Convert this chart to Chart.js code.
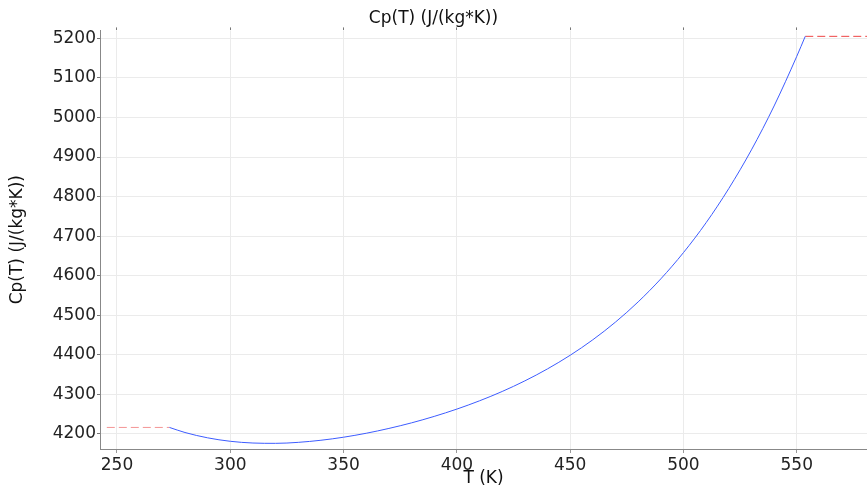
<!DOCTYPE html>
<html>
<head>
<meta charset="utf-8">
<script src="https://cdn.jsdelivr.net/npm/chart.js@4/dist/chart.umd.min.js"></script>
<style>
  html, body { margin: 0; padding: 0; background: #fff; }
  #wrap { width: 867px; height: 490px; }
</style>
</head>
<body>
<div id="wrap"><canvas id="cpChart" width="867" height="490"></canvas></div>
<script>
// temperature (K) and heat capacity (J/(kg*K))
const temps = [273.15, 280, 290, 300, 310, 320, 330, 340, 350, 360, 370, 380, 390, 400, 410,
  420, 430, 440, 450, 460, 470, 480, 490, 500, 510, 520, 530, 540, 550, 553.75];
const cpValues = [4216.5, 4203.7, 4190.2, 4181.5, 4177.1, 4176.3, 4178.8, 4184.1, 4191.8, 4201.8,
  4214.0, 4228.1, 4244.4, 4262.9, 4283.8, 4307.4, 4334.2, 4364.5, 4398.9, 4438.1, 4482.8,
  4533.8, 4592.0, 4658.4, 4734.0, 4820.3, 4918.1, 5029.0, 5154.4, 5205.0];

// constant extrapolation outside the valid range (dashed)
const lowTemps = [245.5, 273.15];
const lowCp = [4216.5, 4216.5];
const highTemps = [553.75, 581];
const highCp = [5205.0, 5205.0];

const xRange = [242.5, 581];
const yRange = [4162, 5220];

let toPoints = (xs, ys) => xs.map((x, i) => ({ x: x, y: ys[i] }));

const font = { family: "'DejaVu Sans', sans-serif", size: 17, weight: "normal" };
const gridColor = "#ebebeb";

const ctx = document.getElementById("cpChart");

const dataset = {
  datasets: [
    {
      label: "Cp(T)",
      data: toPoints(temps, cpValues),
      borderColor: "#3d5cff",
      borderWidth: 1,
      pointRadius: 0,
      cubicInterpolationMode: "monotone",
    },
    {
      label: "low",
      data: toPoints(lowTemps, lowCp),
      borderColor: "#f49494",
      borderWidth: 1,
      borderDash: [8, 4],
      pointRadius: 0,
    },
    {
      label: "high",
      data: toPoints(highTemps, highCp),
      borderColor: "#ee4444",
      borderWidth: 1,
      borderDash: [8, 4],
      pointRadius: 0,
    },
  ],
};

const config = {
  type: "line",
  data: dataset,
  options: {
    responsive: false,
    animation: false,
    layout: { padding: 0 },
    plugins: {
      legend: { display: false },
      tooltip: { enabled: false },
      title: {
        display: true,
        text: "Cp(T) (J/(kg*K))",
        color: "#111",
        font: font,
        padding: { top: 8, bottom: 2 },
      },
    },
    scales: {
      x: {
        type: "linear",
        position: "bottom",
        min: xRange[0],
        max: xRange[1],
        afterFit: (scale) => { scale.height = 41; },
        ticks: { stepSize: 50, includeBounds: false, color: "#222", font: font, padding: 2, maxRotation: 0,
          callback: (v) => String(v) },
        grid: { color: gridColor, tickLength: 4, tickColor: "#999" },
        border: { color: "#888" },
        title: { display: true, text: "T (K)", color: "#111", font: font, padding: { top: 1, bottom: 1 } },
      },
      xTop: {
        type: "linear",
        position: "top",
        min: xRange[0],
        max: xRange[1],
        afterFit: (scale) => { scale.height = 0; },
        ticks: { stepSize: 50, includeBounds: false, display: false },
        grid: { drawOnChartArea: false, tickLength: 3, tickColor: "#777" },
        border: { display: false },
      },
      y: {
        type: "linear",
        min: yRange[0],
        max: yRange[1],
        afterFit: (scale) => { scale.width = 100; },
        ticks: { stepSize: 100, includeBounds: false, color: "#222", font: font, padding: 1,
          callback: (v) => String(v) },
        grid: { color: gridColor, tickLength: 3, tickColor: "#777" },
        border: { color: "#888" },
        title: { display: true, text: "Cp(T) (J/(kg*K))", color: "#111", font: font, padding: { top: 7, bottom: 7 } },
      },
    },
  },
};

const chart = new Chart(ctx, config);
</script>
</body>
</html>
